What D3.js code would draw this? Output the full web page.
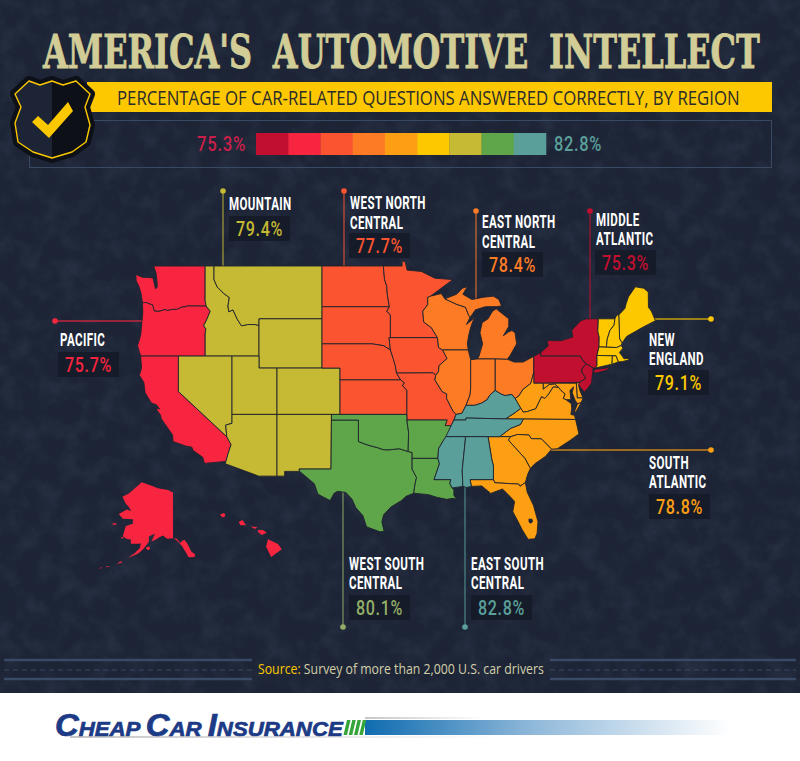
<!DOCTYPE html>
<html>
<head>
<meta charset="utf-8">
<script src="https://cdn.jsdelivr.net/npm/d3@7"></script>
<style>
  html, body { margin: 0; padding: 0; background: #fff; }
  svg { display: block; }
  .name { font-family: Roboto, sans-serif; font-weight: 700; font-size: 17.5px; fill: #fff; letter-spacing: 0.6px; }
  .pct { font-family: Roboto, sans-serif; font-weight: 500; font-size: 20px; letter-spacing: 0.8px; }
</style>
</head>
<body>
<svg id="chart" width="800" height="761"></svg>
<script>
// survey values, one per census region
var regions = ['Pacific', 'Mountain', 'West North Central', 'East North Central', 'Middle Atlantic',
    'New England', 'South Atlantic', 'West South Central', 'East South Central'];
var percents = [75.7, 79.4, 77.7, 78.4, 75.3, 79.1, 78.8, 80.1, 82.8];
var regionColors = ['#f7253f', '#c6b934', '#fb5430', '#fe7b25', '#c10f2f', '#fdc800', '#fd9f12', '#5fa64a', '#5a9f9a'];
var labelColors = ['#f7253f', '#c6b934', '#fb5430', '#fe7b25', '#c10f2f', '#fdc800', '#fd9f12', '#94ae67', '#5a9f9a'];

var rampColors = ['#c10f2f', '#f7253f', '#fb5430', '#fe7b25', '#fd9f12', '#fdc800', '#c6b934', '#5fa64a', '#5a9f9a'];
var rampEnds = ['75.3%', '82.8%'];

var regionStates = {
    'Pacific': ['WA', 'OR', 'CA'],
    'Mountain': ['ID', 'MT', 'WY', 'NV', 'UT', 'CO', 'AZ', 'NM'],
    'West North Central': ['ND', 'SD', 'NE', 'KS', 'MN', 'IA', 'MO'],
    'East North Central': ['WI', 'MI', 'MIU', 'IL', 'IN', 'OH'],
    'Middle Atlantic': ['NY', 'NYL', 'PA', 'NJ'],
    'New England': ['ME', 'VT', 'NH', 'MA', 'RI', 'CT'],
    'South Atlantic': ['DE', 'MD', 'WV', 'VA', 'VAE', 'NC', 'SC', 'GA', 'FL'],
    'West South Central': ['TX', 'OK', 'AR', 'LA'],
    'East South Central': ['KY', 'TN', 'MS', 'AL']
};

// state outlines, [lon, lat]
var stateShapes = {
    WA: [[-122.76,49],[-117.03,49],[-117.04,46.42],[-116.92,45.99],[-118.98,46],[-119.3,45.93],[-119.6,45.92],[-120.2,45.73],[-120.65,45.74],[-121.2,45.65],[-121.5,45.72],[-122.2,45.58],[-122.7,45.62],[-122.8,45.9],[-122.9,46.1],[-123.2,46.15],[-123.55,46.26],[-124,46.26],[-124.1,46.7],[-124.15,46.95],[-124.4,47.5],[-124.7,47.9],[-124.73,48.38],[-124,48.17],[-123.15,48.15],[-122.8,48.1],[-122.75,47.9],[-122.55,47.3],[-122.35,47.45],[-122.4,48],[-122.5,48.5]],
    OR: [[-124,46.26],[-123.55,46.26],[-123.2,46.15],[-122.9,46.1],[-122.8,45.9],[-122.7,45.62],[-122.2,45.58],[-121.5,45.72],[-121.2,45.65],[-120.65,45.74],[-120.2,45.73],[-119.6,45.92],[-119.3,45.93],[-118.98,46],[-116.92,45.99],[-116.47,45.6],[-116.85,44.95],[-117.2,44.45],[-116.95,44.2],[-117.03,43.8],[-117.03,42],[-124.2,42],[-124.55,42.84],[-124.2,43.7],[-124.07,44.7],[-123.96,45.5]],
    CA: [[-124.2,42],[-120,42],[-120,39],[-114.63,35],[-114.15,34.27],[-114.5,33.4],[-114.72,32.72],[-117.12,32.53],[-117.3,33.1],[-118.4,33.75],[-118.5,34.03],[-119.2,34.15],[-120.6,34.55],[-120.65,35.15],[-121.9,36.6],[-122,36.95],[-122.5,37.5],[-122.1,37.5],[-122.45,37.85],[-123,38],[-123.7,38.9],[-123.85,39.8],[-124.35,40.4],[-124.1,41]],
    ID: [[-117.03,49],[-116.05,49],[-116.05,48],[-115.7,47.45],[-114.95,46.95],[-114.35,46.65],[-114.5,46],[-114.4,45.55],[-113.95,45.7],[-113.45,44.95],[-113,44.45],[-112.3,44.55],[-111.5,44.55],[-111.05,44.48],[-111.05,42],[-117.03,42],[-117.03,43.8],[-116.95,44.2],[-117.2,44.45],[-116.85,44.95],[-116.47,45.6],[-116.92,45.99],[-117.04,46.42]],
    MT: [[-116.05,49],[-104.05,49],[-104.05,45],[-111.05,45],[-111.05,44.48],[-111.5,44.55],[-112.3,44.55],[-113,44.45],[-113.45,44.95],[-113.95,45.7],[-114.4,45.55],[-114.5,46],[-114.35,46.65],[-114.95,46.95],[-115.7,47.45],[-116.05,48]],
    WY: [[-111.05,45],[-104.05,45],[-104.05,41],[-111.05,41]],
    UT: [[-114.05,42],[-111.05,42],[-111.05,41],[-109.05,41],[-109.05,37],[-114.05,37]],
    CO: [[-109.05,41],[-102.05,41],[-102.05,37],[-109.05,37]],
    NV: [[-120,42],[-114.05,42],[-114.05,36.2],[-114.75,36.05],[-114.63,35],[-120,39]],
    AZ: [[-114.05,37],[-109.05,37],[-109.05,31.33],[-111.07,31.33],[-114.8,32.5],[-114.72,32.72],[-114.5,33.4],[-114.15,34.27],[-114.63,35],[-114.75,36.05],[-114.05,36.2]],
    NM: [[-109.05,37],[-103,37],[-103.05,32],[-106.6,32],[-106.53,31.78],[-108.2,31.78],[-108.2,31.33],[-109.05,31.33]],
    ND: [[-104.05,49],[-97.23,49],[-97.1,48],[-96.85,47.5],[-96.8,46.9],[-96.56,45.94],[-104.05,45.94]],
    SD: [[-104.05,45.94],[-96.56,45.94],[-96.85,45.6],[-96.45,45.3],[-96.45,43.5],[-96.6,43.5],[-96.45,42.5],[-97.2,42.85],[-98.5,43],[-104.05,43]],
    NE: [[-104.05,43],[-98.5,43],[-97.2,42.85],[-96.45,42.5],[-96.1,41.7],[-95.9,41.2],[-95.77,40.58],[-95.31,40],[-102.05,40],[-102.05,41],[-104.05,41]],
    KS: [[-102.05,40],[-95.31,40],[-94.9,39.75],[-95.1,39.5],[-94.61,39.11],[-94.62,37],[-102.05,37]],
    MN: [[-97.23,49],[-95.15,49],[-95.15,49.38],[-94.8,49.3],[-94.6,48.7],[-93,48.6],[-91.5,48.1],[-89.5,48],[-92,46.75],[-92.3,46.65],[-92.3,46.1],[-92.85,45.6],[-92.75,44.75],[-91.9,44.3],[-91.22,43.5],[-96.45,43.5],[-96.45,45.3],[-96.85,45.6],[-96.56,45.94],[-96.8,46.9],[-96.85,47.5],[-97.1,48]],
    IA: [[-96.6,43.5],[-91.22,43.5],[-91.1,42.7],[-90.65,42.5],[-90.15,41.8],[-91.05,41.2],[-91.1,40.7],[-91.42,40.38],[-91.7,40.6],[-95.77,40.58],[-95.9,41.2],[-96.1,41.7],[-96.45,42.5]],
    MO: [[-95.77,40.58],[-91.7,40.6],[-91.42,40.38],[-91.5,40],[-90.7,39],[-90.2,38.8],[-90.2,38.4],[-89.5,37.3],[-89.15,37],[-89.4,36.5],[-89.7,36],[-90.37,36],[-90.15,36.5],[-94.62,36.5],[-94.62,37],[-94.61,39.11],[-95.1,39.5],[-94.9,39.75],[-95.31,40]],
    OK: [[-103,37],[-94.62,37],[-94.62,36.5],[-94.43,35.4],[-94.48,33.64],[-95.5,33.9],[-96.5,33.8],[-97.2,33.8],[-97.9,34],[-98.6,34.15],[-99.2,34.3],[-100,34.56],[-100,36.5],[-103,36.5]],
    TX: [[-106.6,32],[-103.05,32],[-103,36.5],[-100,36.5],[-100,34.56],[-99.2,34.3],[-98.6,34.15],[-97.9,34],[-97.2,33.8],[-96.5,33.8],[-95.5,33.9],[-94.48,33.64],[-94.04,33.55],[-94.04,32],[-93.55,31.2],[-93.75,30.4],[-93.85,29.7],[-94.7,29.4],[-95.2,29],[-96.4,28.35],[-97.2,27.6],[-97.4,26.9],[-97.15,25.96],[-97.6,25.9],[-99.1,26.4],[-99.5,27.5],[-100.3,28.3],[-100.7,29.1],[-101.4,29.77],[-102.3,29.88],[-102.7,29.7],[-103.15,28.98],[-104.5,29.6],[-104.9,30.6],[-106.53,31.78]],
    AR: [[-94.62,36.5],[-90.15,36.5],[-90.37,36],[-89.7,36],[-90.1,35.1],[-90.6,34.6],[-91.1,33.9],[-91.17,33],[-94.04,33],[-94.04,33.55],[-94.48,33.64],[-94.43,35.4]],
    LA: [[-94.04,33],[-91.17,33],[-91,32.5],[-91.6,31],[-89.73,31],[-89.85,30.65],[-89.6,30.2],[-89.4,30.05],[-89.4,29.5],[-89.1,29.1],[-89.5,29.2],[-90.2,29.1],[-91.3,29.3],[-92.2,29.55],[-93.85,29.7],[-93.75,30.4],[-93.55,31.2],[-94.04,32]],
    MS: [[-91.6,31],[-91,32.5],[-91.17,33],[-91.1,33.9],[-90.6,34.6],[-90.3,35],[-88.2,35],[-88.1,34.9],[-88.47,31.9],[-88.4,30.35],[-89.6,30.2],[-89.85,30.65],[-89.73,31]],
    AL: [[-88.2,35],[-85.6,35],[-85.18,32.87],[-85,32.3],[-85,31],[-87.6,31],[-87.45,30.35],[-88,30.25],[-88.4,30.35],[-88.47,31.9],[-88.1,34.9]],
    TN: [[-90.3,35],[-89.7,36],[-89.4,36.5],[-88.07,36.5],[-88.05,36.68],[-83.68,36.6],[-81.68,36.59],[-82,36.1],[-83.1,35.75],[-84.32,35],[-85.6,35]],
    KY: [[-89.4,36.5],[-89.15,37],[-88.5,37.1],[-88.05,37.8],[-87.1,37.8],[-86.3,38],[-85.7,38.3],[-85.4,38.7],[-84.8,39.1],[-84.2,38.8],[-83.7,38.65],[-82.95,38.75],[-82.6,38.4],[-81.97,37.54],[-82.7,37.1],[-83.68,36.6],[-88.05,36.68],[-88.07,36.5]],
    WI: [[-92.75,44.75],[-92.85,45.6],[-92.3,46.1],[-92.3,46.65],[-92,46.75],[-90.8,46.95],[-90.4,46.55],[-89.1,46.13],[-88.1,45.9],[-87.8,45.35],[-87.6,45.1],[-88,44.55],[-87.4,44.9],[-87.05,45.25],[-87.5,44.4],[-87.75,43.7],[-87.9,43],[-87.8,42.5],[-90.65,42.5],[-91.1,42.7],[-91.22,43.5],[-91.9,44.3]],
    MI: [[-86.8,41.76],[-84.8,41.76],[-83.45,41.73],[-83.15,42.05],[-82.42,43],[-82.6,43.9],[-82.95,44.07],[-83.35,43.95],[-83.9,43.65],[-83.3,44.4],[-83.3,45],[-84.7,45.78],[-85.1,45.6],[-85.6,45],[-86.25,44.7],[-86.5,43.9],[-86.2,43],[-86.6,42]],
    MIU: [[-90.4,46.55],[-89.1,46.9],[-88.45,47.35],[-87.9,47.47],[-88.4,46.9],[-87.4,46.5],[-86.1,46.67],[-85,46.75],[-84.4,46.5],[-84.1,46],[-84.7,45.95],[-85.9,45.95],[-87,45.7],[-87.6,45.1],[-87.8,45.35],[-88.1,45.9],[-89.1,46.13]],
    IL: [[-90.65,42.5],[-87.8,42.5],[-87.53,41.7],[-87.53,39.3],[-87.6,38.7],[-88.05,37.8],[-88.5,37.1],[-89.15,37],[-89.5,37.3],[-90.2,38.4],[-90.2,38.8],[-90.7,39],[-91.5,40],[-91.42,40.38],[-91.1,40.7],[-91.05,41.2],[-90.15,41.8]],
    IN: [[-87.53,41.7],[-86.8,41.76],[-84.8,41.76],[-84.8,39.1],[-85.4,38.7],[-85.7,38.3],[-86.3,38],[-87.1,37.8],[-88.05,37.8],[-87.6,38.7],[-87.53,39.3]],
    OH: [[-84.8,41.76],[-83.45,41.73],[-82.7,41.5],[-81.7,41.5],[-80.52,41.98],[-80.52,40.64],[-80.85,39.7],[-81.7,39.2],[-82.2,38.6],[-82.6,38.4],[-82.95,38.75],[-83.7,38.65],[-84.2,38.8],[-84.8,39.1]],
    PA: [[-80.52,41.98],[-79.76,42.27],[-79.76,42],[-75.35,42],[-75.05,41.6],[-74.7,41.36],[-75.13,40.97],[-75.2,40.68],[-74.72,40.15],[-75.42,39.8],[-79.48,39.72],[-80.52,39.72]],
    NY: [[-79.76,42.27],[-78.9,42.85],[-79.05,43.27],[-77.5,43.25],[-76.2,43.55],[-76.3,44.1],[-75.3,44.85],[-74.7,45],[-73.35,45],[-73.4,44],[-73.25,43.55],[-73.27,42.75],[-73.5,42.05],[-73.49,41.2],[-73.7,41],[-73.92,41],[-74.7,41.36],[-75.05,41.6],[-75.35,42],[-79.76,42]],
    NYL: [[-74,40.6],[-73.7,40.9],[-72.7,40.97],[-72,41.1],[-72.5,40.8],[-73.5,40.6]],
    NJ: [[-74.7,41.36],[-73.92,41],[-74,40.45],[-74.1,39.75],[-74.4,39.4],[-74.9,38.95],[-75.2,39.25],[-75.55,39.6],[-75.42,39.8],[-74.72,40.15],[-75.2,40.68],[-75.13,40.97]],
    DE: [[-75.79,39.72],[-75.42,39.8],[-75.55,39.6],[-75.4,39.1],[-75.05,38.45],[-75.7,38.45]],
    MD: [[-79.48,39.72],[-75.79,39.72],[-75.7,38.45],[-75.05,38.45],[-75.25,38.03],[-75.65,37.95],[-75.9,38.2],[-76.25,38.9],[-76.1,39.4],[-76.5,39.1],[-76.4,38.3],[-76.95,38.3],[-77.25,38.4],[-77.05,38.8],[-77.5,39.1],[-77.75,39.35],[-78.2,39.65],[-78.8,39.6],[-79.48,39.2]],
    WV: [[-80.52,40.64],[-80.52,39.72],[-79.48,39.72],[-79.48,39.2],[-78.8,39.6],[-78.2,39.65],[-77.75,39.35],[-78.35,39.4],[-78.85,38.8],[-79.3,38.4],[-79.65,38.55],[-80.3,37.5],[-81.25,37.25],[-81.68,37.2],[-81.97,37.54],[-82.6,38.4],[-82.2,38.6],[-81.7,39.2],[-80.85,39.7]],
    VA: [[-83.68,36.6],[-82.7,37.1],[-81.97,37.54],[-81.68,37.2],[-81.25,37.25],[-80.3,37.5],[-79.65,38.55],[-79.3,38.4],[-78.85,38.8],[-78.35,39.4],[-77.75,39.35],[-77.5,39.1],[-77.05,38.8],[-77.25,38.4],[-76.95,38.3],[-76.35,37.95],[-76.3,37.5],[-76.4,37],[-76,36.92],[-75.87,36.55],[-81.68,36.59]],
    VAE: [[-75.65,37.95],[-75.25,38.03],[-75.9,37.15],[-75.98,37.3]],
    NC: [[-84.32,35],[-83.1,35.75],[-82,36.1],[-81.68,36.59],[-75.87,36.55],[-75.5,35.25],[-76.5,34.65],[-77.9,33.9],[-78.55,33.85],[-79.67,34.8],[-80.8,34.82],[-81.05,35.15],[-82.3,35.2],[-83.1,35]],
    SC: [[-83.1,35],[-82.3,35.2],[-81.05,35.15],[-80.8,34.82],[-79.67,34.8],[-78.55,33.85],[-79.2,33.2],[-80.4,32.5],[-80.9,32.05],[-81.5,33],[-82.6,34],[-83.35,34.7]],
    GA: [[-85.6,35],[-84.32,35],[-83.1,35],[-83.35,34.7],[-82.6,34],[-81.5,33],[-80.9,32.05],[-81.2,31.5],[-81.45,30.72],[-82.05,30.36],[-82.2,30.57],[-84.86,30.7],[-85,31],[-85,32.3],[-85.18,32.87]],
    FL: [[-87.6,31],[-85,31],[-84.86,30.7],[-82.2,30.57],[-82.05,30.36],[-81.45,30.72],[-81.25,29.8],[-80.55,28.5],[-80.05,26.9],[-80.15,25.75],[-80.4,25.2],[-81.15,25.15],[-81.8,26.1],[-82.25,26.9],[-82.85,27.9],[-82.65,28.9],[-83.4,29.6],[-84,30.1],[-85.3,29.68],[-86.3,30.4],[-87.45,30.35]],
    VT: [[-73.35,45],[-71.5,45],[-71.6,44.5],[-72.05,44.1],[-72.35,43.4],[-72.46,42.73],[-73.27,42.75],[-73.25,43.55],[-73.4,44]],
    NH: [[-71.5,45],[-71.3,45.3],[-71.08,45.3],[-70.98,43.4],[-70.7,43.07],[-70.82,42.87],[-71.3,42.7],[-72.46,42.73],[-72.35,43.4],[-72.05,44.1],[-71.6,44.5]],
    ME: [[-71.08,45.3],[-70.4,45.8],[-70.25,46.2],[-70,46.7],[-69.23,47.46],[-68.3,47.35],[-67.8,47.07],[-67.78,45.9],[-67.45,45.6],[-67,44.85],[-68.5,44.3],[-69.1,44.05],[-70.2,43.6],[-70.7,43.07],[-70.98,43.4]],
    MA: [[-73.5,42.05],[-73.27,42.75],[-72.46,42.73],[-71.3,42.7],[-70.82,42.87],[-70.6,42.65],[-71,42.3],[-70.65,41.95],[-70.5,41.78],[-70,41.8],[-70.05,42.05],[-69.95,41.67],[-70.65,41.55],[-71.13,41.5],[-71.38,42.02],[-71.8,42.02]],
    RI: [[-71.8,42.02],[-71.38,42.02],[-71.13,41.5],[-71.85,41.32]],
    CT: [[-73.5,42.05],[-71.8,42.02],[-71.85,41.32],[-73.7,41],[-73.49,41.2]]
};
var lakeOkeechobee = [[-81.1,27.2],[-80.7,27.2],[-80.6,26.9],[-80.9,26.7],[-81.1,26.9]];

var alaskaShapes = [
    [[-141,69.65],[-143.5,70.1],[-148.5,70.4],[-152,70.85],[-156.6,71.35],[-160,70.4],[-163,69.5],[-166.2,68.9],[-164.5,67.6],[-163,67],[-161.8,66.2],[-164,66.5],[-168,65.6],[-166,64.6],[-161,64.5],[-161,63.5],[-164.5,63],[-165.5,61.5],[-166,60.5],[-164,59.9],[-162,59.8],[-162,58.7],[-158,58.7],[-157,58.8],[-157.5,57.6],[-160,56.2],[-163,55],[-164.7,54.6],[-162,55.2],[-158.5,56],[-156,57.2],[-154.5,58.2],[-153,59.2],[-153,60.5],[-151,61],[-150,61.2],[-151.8,59.3],[-149.5,59.8],[-148,60.3],[-146,60.8],[-144,60],[-141,60.1]],
    [[-141,60.1],[-139,59.95],[-137.5,58.9],[-136.5,59.4],[-135.4,59.7],[-133.8,58.7],[-131.8,56.6],[-130,55.9],[-130.2,55.1],[-131.5,55],[-133.4,55.1],[-134.4,56.2],[-135.5,57.2],[-136.5,58.1],[-139.5,59.7]],
    [[-154.5,57.4],[-153.2,57],[-152.3,57.5],[-153,58],[-154.2,57.8]],
    [[-171.7,63.4],[-168.8,63.2],[-170,63.7]],
    [[-167.3,60.2],[-165.7,60],[-166,60.4]],
    [[-166.9,53.9],[-166.2,53.5],[-168,53.3],[-169,52.8],[-168.2,53.5]],
    [[-174.5,52.1],[-172,52.2],[-174,52.4]],
    [[-178,51.7],[-176,51.8],[-177,52]]
];
var hawaiiShapes = [
    [[-155.9,20.25],[-155.1,19.9],[-154.8,19.5],[-155.65,18.92],[-156.05,19.7]],
    [[-156.7,20.95],[-156.3,20.95],[-156,20.75],[-156.4,20.58],[-156.7,20.8]],
    [[-157.3,21.22],[-156.75,21.17],[-156.95,21.03]],
    [[-158.25,21.55],[-157.95,21.7],[-157.65,21.3],[-158.1,21.3]],
    [[-159.75,22.1],[-159.4,22.22],[-159.3,22],[-159.55,21.88]]
];

// label placement, same order as regions
var labelLines = [['PACIFIC'], ['MOUNTAIN'], ['WEST NORTH', 'CENTRAL'], ['EAST NORTH', 'CENTRAL'], ['MIDDLE', 'ATLANTIC'],
    ['NEW', 'ENGLAND'], ['SOUTH', 'ATLANTIC'], ['WEST SOUTH', 'CENTRAL'], ['EAST SOUTH', 'CENTRAL']];
var labelX = [60, 229, 350, 482, 596, 649, 649, 349, 471];
var labelY = [346, 210, 209, 228, 226, 346, 469, 570, 570];
var lineGap = [0, 0, 20, 20, 19, 19, 19, 19, 19];
var boxX = [58, 229, 349, 482, 595, 648, 649, 349, 471];
var boxY = [352, 216, 233, 252, 250, 370, 494, 595, 595];
var leaders = [
    [[55, 321], [150, 321]],
    [[223, 191], [223, 270]],
    [[344, 191], [344, 270]],
    [[476, 211], [476, 300]],
    [[590, 211], [590, 322]],
    [[711, 319], [645, 319]],
    [[711, 450], [540, 450]],
    [[343, 627], [343, 480]],
    [[465, 627], [465, 480]]
];

// squeeze a text horizontally about its anchor; this font set has no condensed cuts
function squeeze(text, x, y, k) {
    return text.attr('transform', 'translate(' + x + ',' + y + ') scale(' + k + ',1)');
}
function fitWidth(text, x, y, width) {
    return squeeze(text, x, y, width / text.node().getComputedTextLength());
}

var svg = d3.select('#chart');
var defs = svg.append('defs');

var grunge = defs.append('filter').attr('id', 'grunge')
    .attr('x', 0).attr('y', 0).attr('width', '100%').attr('height', '100%');
grunge.append('feTurbulence').attr('type', 'fractalNoise')
    .attr('baseFrequency', 0.05).attr('numOctaves', 5).attr('seed', 7);
grunge.append('feColorMatrix').attr('type', 'matrix')
    .attr('values', '0 0 0 0 0.07  0 0 0 0 0.09  0 0 0 0 0.14  1.8 0 0 0 -0.72');

var barGrad = defs.append('linearGradient').attr('id', 'logobar');
barGrad.append('stop').attr('offset', '0').attr('stop-color', '#0f6cb0');
barGrad.append('stop').attr('offset', '0.45').attr('stop-color', '#8db7d9');
barGrad.append('stop').attr('offset', '1').attr('stop-color', '#ffffff');
var greyGrad = defs.append('linearGradient').attr('id', 'logogrey');
greyGrad.append('stop').attr('offset', '0').attr('stop-color', '#8e8e8e');
greyGrad.append('stop').attr('offset', '1').attr('stop-color', '#ffffff');

// background
svg.append('rect').attr('width', 800).attr('height', 761).attr('fill', '#fff');
svg.append('rect').attr('width', 800).attr('height', 693).attr('fill', '#1c2436');
svg.append('rect').attr('width', 800).attr('height', 693).attr('filter', 'url(#grunge)').attr('opacity', 0.28);

// title
var title = svg.append('text')
    .style('font-family', '"DejaVu Serif", serif').style('font-weight', 700)
    .style('font-size', '47px').style('word-spacing', '14px')
    .attr('fill', '#d2cd97').attr('stroke', '#d2cd97').attr('stroke-width', 0.8)
    .text("AMERICA'S AUTOMOTIVE INTELLECT");
fitWidth(title, 43, 68, 717);

// subtitle band
svg.append('rect').attr('x', 87).attr('y', 82).attr('width', 685).attr('height', 30).attr('fill', '#fdc800');
var subtitle = svg.append('text')
    .style('font-family', '"Open Sans", sans-serif').style('font-size', '20px').attr('fill', '#2b2b2b')
    .text('PERCENTAGE OF CAR-RELATED QUESTIONS ANSWERED CORRECTLY, BY REGION');
fitWidth(subtitle, 117, 105, 623);

// legend
svg.append('rect').attr('x', 29.5).attr('y', 120.5).attr('width', 742).attr('height', 47)
    .attr('fill', 'none').attr('stroke', '#3a4962');
var rampX = d3.scaleBand().domain(d3.range(rampColors.length)).range([256, 546]);
svg.append('g').selectAll('rect').data(rampColors).join('rect')
    .attr('x', function (d, i) { return rampX(i); })
    .attr('y', 133).attr('width', rampX.bandwidth() + 0.3).attr('height', 22)
    .attr('fill', function (d) { return d; });
fitWidth(svg.append('text').attr('class', 'pct').attr('text-anchor', 'end')
    .attr('fill', '#c8204a').text(rampEnds[0]), 246, 151, 49);
fitWidth(svg.append('text').attr('class', 'pct')
    .attr('fill', '#5a9f9a').text(rampEnds[1]), 554, 151, 48);

// badge
var shield = [[29,81],[40,85],[52,81],[63,85],[76,81],[90,94],[85,107],[90,125],[86,142],[72,152],[52,158],[33,152],[18,142],[15,123],[21,107],[15,94]];
var check = [[32,122],[38,116],[48,125],[68,102],[73,111],[49,138]];
var shieldLine = d3.line().curve(d3.curveLinearClosed);
var badge = svg.append('g');
badge.append('path').attr('d', shieldLine(shield)).attr('fill', '#0d1016')
    .attr('stroke', '#0d1016').attr('stroke-width', 10).attr('stroke-linejoin', 'round');
defs.append('clipPath').attr('id', 'shieldclip').append('path').attr('d', shieldLine(shield));
badge.append('rect').attr('x', 0).attr('y', 70).attr('width', 52).attr('height', 100)
    .attr('fill', '#1c2436').attr('clip-path', 'url(#shieldclip)');
badge.append('path').attr('d', shieldLine(shield)).attr('fill', 'none')
    .attr('stroke', '#fdc800').attr('stroke-width', 1.4).attr('stroke-linejoin', 'round');
badge.append('path').attr('d', d3.line()(check) + 'Z').attr('fill', '#fdc800');

// leaders go under the map
var leaderG = svg.append('g');
leaders.forEach(function (pts, i) {
    leaderG.append('path').attr('d', d3.line()(pts)).attr('fill', 'none')
        .attr('stroke', labelColors[i]).attr('stroke-opacity', 0.75).attr('stroke-width', 1.3);
    leaderG.append('circle').attr('cx', pts[0][0]).attr('cy', pts[0][1]).attr('r', 2.8)
        .attr('fill', labelColors[i]);
});

// map: lower 48 on one mercator, the two insets each on their own
var lower48 = d3.geoMercator().scale(9 * 180 / Math.PI).center([-104.05, 49]).translate([322, 266]);
var alaska = d3.geoMercator().scale(115).center([-141, 71.4]).translate([173, 482]);
var hawaii = d3.geoMercator().scale(716).center([-155.5, 19.6]).translate([273, 548]);

function outline(points, projection) {
    return d3.line()(points.map(projection)) + 'Z';
}

var color = d3.scaleOrdinal().domain(regions).range(regionColors);
var mapG = svg.append('g').attr('stroke', '#20242c').attr('stroke-width', 0.9).attr('stroke-linejoin', 'round');

regions.forEach(function (region) {
    regionStates[region].forEach(function (code) {
        mapG.append('path').attr('d', outline(stateShapes[code], lower48)).attr('fill', color(region));
    });
});
mapG.append('path').attr('d', outline(lakeOkeechobee, lower48)).attr('fill', '#1c2436').attr('stroke', 'none');

alaskaShapes.forEach(function (shape) {
    mapG.append('path').attr('d', outline(shape, alaska)).attr('fill', color('Pacific')).attr('stroke', 'none');
});
hawaiiShapes.forEach(function (shape) {
    mapG.append('path').attr('d', outline(shape, hawaii)).attr('fill', color('Pacific')).attr('stroke', 'none');
});

// region labels
regions.forEach(function (region, i) {
    var g = svg.append('g');
    labelLines[i].forEach(function (line, j) {
        squeeze(g.append('text').attr('class', 'name').text(line),
            labelX[i], labelY[i] + j * lineGap[i], 0.66);
    });
    g.append('rect').attr('x', boxX[i]).attr('y', boxY[i]).attr('width', 61).attr('height', 25)
        .attr('fill', '#141925').attr('opacity', 0.8);
    fitWidth(g.append('text').attr('class', 'pct').attr('text-anchor', 'middle').attr('fill', labelColors[i])
        .text(d3.format('.1f')(percents[i]) + '%'), boxX[i] + 30.5, boxY[i] + 20, 47);
});

// source line
var ruleColor = '#3a4966';
[[4, 252], [550, 796]].forEach(function (span) {
    [660, 679].forEach(function (y) {
        svg.append('line').attr('x1', span[0]).attr('x2', span[1]).attr('y1', y).attr('y2', y)
            .attr('stroke', ruleColor).attr('stroke-width', 2.4);
    });
    svg.append('line').attr('x1', span[0]).attr('x2', span[1]).attr('y1', 670).attr('y2', 670)
        .attr('stroke', ruleColor).attr('stroke-width', 1.2).attr('stroke-dasharray', '5 4');
});
var source = svg.append('text')
    .style('font-family', '"Open Sans", sans-serif').style('font-size', '15px');
source.append('tspan').attr('fill', '#fdc800').text('Source:');
source.append('tspan').attr('fill', '#d2cfa8').text(' Survey of more than 2,000 U.S. car drivers');
fitWidth(source, 258, 674, 286);

// logo strip
svg.append('rect').attr('x', 365).attr('y', 720).attr('width', 365).attr('height', 15).attr('fill', 'url(#logobar)');
svg.append('rect').attr('x', 365).attr('y', 717.5).attr('width', 120).attr('height', 1).attr('fill', 'url(#logogrey)');
svg.append('rect').attr('x', 70).attr('y', 736.5).attr('width', 430).attr('height', 1).attr('fill', 'url(#logogrey)');
var logo = svg.append('text')
    .style('font-family', '"Liberation Sans", sans-serif').style('font-weight', 700)
    .style('font-style', 'italic').attr('fill', '#1c3a85').attr('stroke', '#1c3a85').attr('stroke-width', 0.7);
[['C', 31], ['HEAP ', 21], ['C', 31], ['AR ', 21], ['I', 31], ['NSURANCE', 21]].forEach(function (part) {
    logo.append('tspan').style('font-size', part[1] + 'px').text(part[0]);
});
fitWidth(logo, 55, 736, 288);
var stripeX = d3.scaleBand().domain(d3.range(4)).range([344, 365]);
svg.append('g').selectAll('path').data(d3.range(4)).join('path')
    .attr('d', function (i) {
        var x = stripeX(i);
        return d3.line()([[x + 3, 720], [x + 6.5, 720], [x + 3, 735], [x - 0.5, 735]]) + 'Z';
    })
    .attr('fill', '#35a53a');
</script>
</body>
</html>
